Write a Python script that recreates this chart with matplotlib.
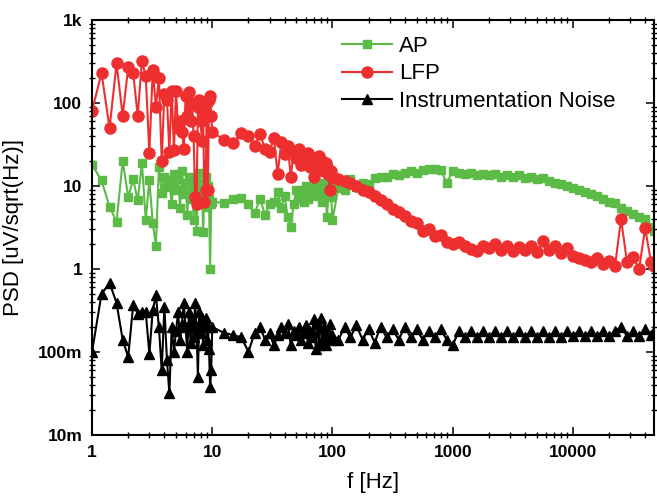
import matplotlib
matplotlib.use("Agg")
import matplotlib.pyplot as plt
from matplotlib.ticker import FixedLocator, LogLocator, NullFormatter

plt.rcParams['font.family'] = ['Liberation Sans', 'DejaVu Sans']

# frequency grid [Hz], shared by all three spectra
freq_low = [1.0, 1.2, 1.4, 1.6, 1.8, 2.0, 2.2, 2.4, 2.6, 2.8,
            3.0, 3.2, 3.4, 3.6, 3.8, 4.0, 4.2, 4.4, 4.6, 4.8,
            5.0, 5.2, 5.4, 5.6, 5.8, 6.0, 6.2, 6.4, 6.6, 6.8,
            7.0, 7.2, 7.4, 7.6, 7.8, 8.0, 8.2, 8.4, 8.6, 8.8,
            9.0, 9.2, 9.4, 9.6, 9.8, 10.0]
freq_mid = [12.5, 15, 17.5, 20, 22.5, 25, 27.5, 30, 32.5, 35,
            37.5, 40, 42.5, 45, 47.5, 50, 52.5, 55, 57.5, 60,
            62.5, 65, 67.5, 70, 72.5, 75, 77.5, 80, 82.5, 85,
            87.5, 90, 92.5, 95, 97.5, 100]
freq_high = [112, 126, 141, 158, 178, 200, 224, 251, 282, 316,
             355, 398, 447, 501, 562, 631, 708, 794, 891, 1000,
             1122, 1259, 1413, 1585, 1778, 1995, 2239, 2512, 2818, 3162,
             3548, 3981, 4467, 5012, 5623, 6310, 7079, 7943, 8913, 10000,
             11220, 12589, 14125, 15849, 17783, 19953, 22387, 25119, 28184, 31623,
             35481, 39811, 44668, 47000]
freq = freq_low + freq_mid + freq_high

# PSD values [uV/sqrt(Hz)]
ap = [18, 11.7, 5.6, 3.7, 20, 7.4, 12, 6.7, 19, 3.9,
      11.7, 3.6, 1.9, 17, 8.3, 13, 9.8, 11.7, 6, 14,
      9, 12, 5.5, 15, 8, 11, 4.5, 13, 7, 10,
      3.9, 12, 2.9, 9, 14.5, 6, 11, 2.8, 8, 13,
      5.6, 10, 7, 1.0, 6, 6.5,
      6.2, 7, 7.2, 6, 4.7, 7, 4.5, 6, 6.5, 8.5,
      5.5, 7.5, 4.2, 3.2, 6, 9, 7, 8.9, 6.5, 10,
      7, 9, 8, 11, 7.5, 9.4, 8, 10, 6.5, 11,
      9, 4.2, 8, 10, 7.4, 3.9,
      9.5, 9, 12, 9.8, 10.9, 10.5, 12.5, 13, 13, 14,
      13.5, 14.5, 15, 14.5, 15.5, 16, 16, 15.5, 11, 15,
      14.5, 14, 14.5, 13.5, 14, 13.5, 14, 13, 13.5, 13,
      13.5, 12.5, 13, 12, 12.5, 11.5, 11, 10.5, 10, 9.5,
      9, 8.5, 8, 7.5, 7, 6.5, 6.2, 5.5, 5, 4.6,
      4.2, 4.0, 3.2, 2.9]

lfp = [80, 230, 50, 300, 70, 270, 230, 70, 320, 210,
       25, 250, 90, 200, 20, 130, 110, 26, 140, 27,
       140, 50, 60, 45, 28, 120, 70, 135, 60, 100,
       40, 7.4, 6, 90, 110, 60, 35, 80, 6.4, 9,
       100, 8.9, 110, 120, 70, 45,
       36, 33, 44, 40, 30, 42, 28, 26, 38, 14,
       34, 24, 30, 13, 26, 22, 28, 18, 24, 20,
       25, 17, 22, 13, 21, 18, 23, 16, 20, 15,
       19, 17, 14, 9, 15, 13,
       12, 11.5, 11, 10, 9, 8.5, 7.5, 6.7, 6, 5.3,
       4.9, 4.3, 3.8, 3.6, 2.9, 3.0, 2.5, 2.6, 2.1, 2.0,
       2.1, 1.9, 1.75, 1.65, 1.9, 1.8, 2.0, 1.7, 1.9, 1.65,
       1.85, 1.7, 1.9, 1.6, 2.2, 1.7, 1.9, 1.55, 1.8, 1.45,
       1.35, 1.3, 1.2, 1.35, 1.15, 1.25, 1.1, 4.0, 1.2, 1.4,
       1.0, 3.1, 1.2, 1.1]

noise = [0.1, 0.5, 0.68, 0.39, 0.14, 0.087, 0.37, 0.29, 0.3, 0.3,
         0.095, 0.32, 0.48, 0.2, 0.06, 0.35, 0.08, 0.032, 0.2, 0.1,
         0.18, 0.3, 0.14, 0.22, 0.39, 0.2, 0.1, 0.3, 0.13, 0.25,
         0.15, 0.39, 0.2, 0.05, 0.3, 0.17, 0.26, 0.12, 0.22, 0.26,
         0.14, 0.2, 0.11, 0.038, 0.06, 0.2,
         0.17, 0.16, 0.15, 0.1, 0.17, 0.2, 0.14, 0.17, 0.12, 0.16,
         0.2, 0.17, 0.22, 0.12, 0.18, 0.16, 0.2, 0.14, 0.17, 0.21,
         0.13, 0.18, 0.15, 0.25, 0.11, 0.22, 0.12, 0.26, 0.14, 0.2,
         0.12, 0.18, 0.15, 0.22, 0.14, 0.16,
         0.14, 0.2, 0.15, 0.21, 0.14, 0.19, 0.13, 0.2, 0.15, 0.19,
         0.14, 0.2, 0.15, 0.19, 0.14, 0.18, 0.15, 0.19, 0.14, 0.12,
         0.18, 0.15, 0.18, 0.15, 0.18, 0.15, 0.18, 0.15, 0.18, 0.15,
         0.18, 0.15, 0.18, 0.15, 0.18, 0.15, 0.18, 0.15, 0.18, 0.155,
         0.18, 0.155, 0.18, 0.155, 0.18, 0.155, 0.18, 0.2, 0.155, 0.18,
         0.155, 0.19, 0.16, 0.18]

x_ticks = [1, 10, 100, 1000, 10000]
x_tick_labels = ['1', '10', '100', '1000', '10000']
y_ticks = [0.01, 0.1, 1, 10, 100, 1000]
y_tick_labels = ['10m', '100m', '1', '10', '100', '1k']

GREEN = '#5cba47'
RED = '#ee2f2f'

fig = plt.figure(figsize=(6.57, 4.97), dpi=100)
ax = fig.add_axes([92 / 657, 62 / 497, 562 / 657, 415 / 497])

ax.plot(freq, ap, color=GREEN, marker='s', markersize=5.5, lw=1.5, label='AP')
ax.plot(freq, lfp, color=RED, marker='o', markersize=8, lw=1.5, label='LFP')
ax.plot(freq, noise, color='black', marker='^', markersize=7.5, lw=1.5,
        label='Instrumentation Noise')

ax.set_xscale('log')
ax.set_yscale('log')
ax.set_xlim(1, 47200)
ax.set_ylim(0.01, 1000)

ax.xaxis.set_major_locator(FixedLocator(x_ticks))
ax.set_xticklabels(x_tick_labels)
ax.yaxis.set_major_locator(FixedLocator(y_ticks))
ax.set_yticklabels(y_tick_labels)
ax.xaxis.set_minor_locator(LogLocator(base=10, subs=range(2, 10), numticks=20))
ax.yaxis.set_minor_locator(LogLocator(base=10, subs=range(2, 10), numticks=20))
ax.xaxis.set_minor_formatter(NullFormatter())
ax.yaxis.set_minor_formatter(NullFormatter())

ax.tick_params(which='major', direction='in', length=6, width=1.1,
               top=True, right=True, labelsize=12.5, pad=7)
ax.tick_params(which='minor', direction='inout', length=5, width=1.0,
               top=True, right=True)
for lab in ax.get_xticklabels() + ax.get_yticklabels():
    lab.set_fontweight('bold')
for sp in ax.spines.values():
    sp.set_linewidth(1.5)

ax.set_xlabel('f [Hz]', fontsize=16, labelpad=9)
ax.set_ylabel('PSD [uV/sqrt(Hz)]', fontsize=16, labelpad=10)

ax.legend(loc='upper left', bbox_to_anchor=(0.445, 0.962), frameon=False,
          fontsize=16, numpoints=1, handlelength=2.25, handletextpad=0.3,
          labelspacing=0.3, borderpad=0, borderaxespad=0)

fig.savefig('out.png', dpi=100)
